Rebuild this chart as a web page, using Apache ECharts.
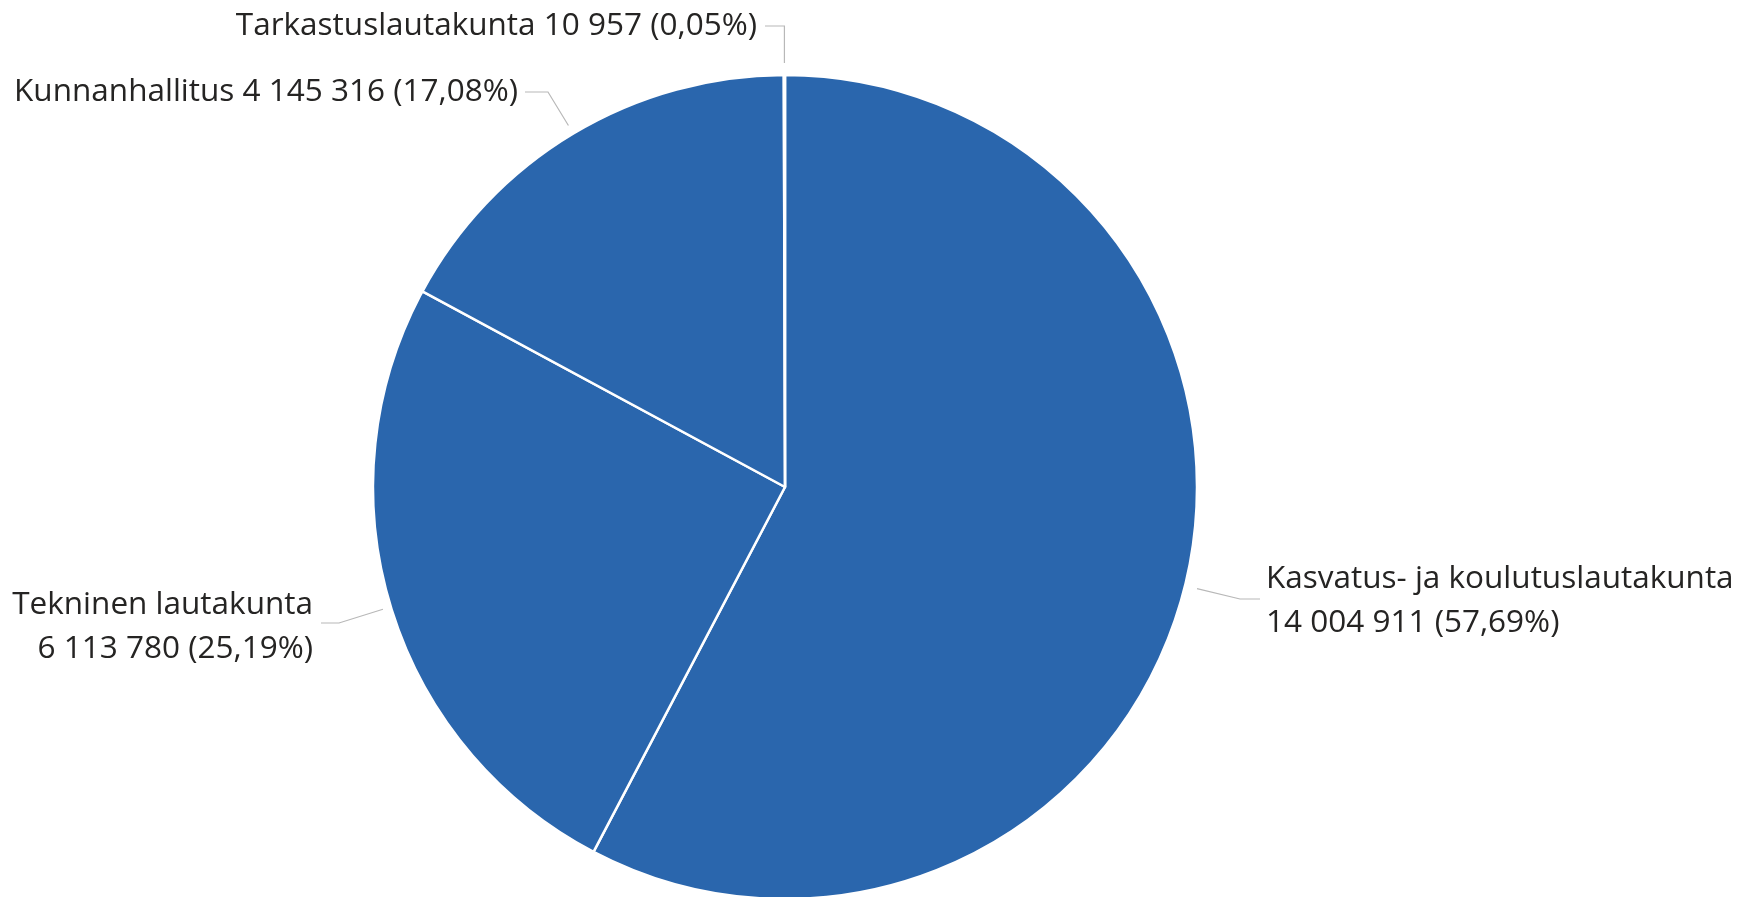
<!DOCTYPE html>
<html>
<head>
<meta charset="utf-8">
<script src="https://cdn.jsdelivr.net/npm/echarts@6/dist/echarts.min.js"></script>
<style>
  html, body { margin: 0; padding: 0; background: #fff; }
  #chart { width: 1737px; height: 897px; }
</style>
</head>
<body>
<div id="chart"></div>
<script>
const categories = [
    'Kasvatus- ja koulutuslautakunta',
    'Tekninen lautakunta',
    'Kunnanhallitus',
    'Tarkastuslautakunta'
];
const values = [14004911, 6113780, 4145316, 10957];

// label placement (right/left edge, vertical middle), two-line or not
const labelSpots = [
    {x: 1266, y: 601, align: 'left', wrap: true},
    {x: 313, y: 627, align: 'right', wrap: true},
    {x: 518, y: 92, align: 'right', wrap: false},
    {x: 757, y: 26, align: 'right', wrap: false}
];

const total = values.reduce((a, b) => a + b, 0);
const fmtNum = v => String(v).replace(/\B(?=(\d{3})+(?!\d))/g, ' ');

const chart = echarts.init(document.getElementById('chart'));

chart.setOption({
    animation: false,
    series: [{
        type: 'pie',
        center: [785, 487],
        radius: 412,
        startAngle: 90,
        clockwise: true,
        avoidLabelOverlap: false,
        itemStyle: {
            color: '#2A66AD',
            borderColor: '#fff',
            borderWidth: 2.5
        },
        label: {
            show: true,
            position: 'outside',
            color: '#252423',
            fontFamily: 'Open Sans',
            fontSize: 31.5,
            lineHeight: 44,
            formatter: p => {
                let pct = (p.value / total * 100).toFixed(2).replace('.', ',');
                let sep = labelSpots[p.dataIndex].wrap ? '\n' : ' ';
                return p.name + sep + fmtNum(p.value) + ' (' + pct + '%)';
            }
        },
        labelLine: {
            show: true,
            lineStyle: {color: '#b8b8b8', width: 1.2}
        },
        labelLayout: params => {
            let s = labelSpots[params.dataIndex];
            let p0 = params.labelLinePoints ? params.labelLinePoints[0] : [s.x, s.y];
            let pts;
            if (params.dataIndex === 0) {
                pts = [[p0[0] + 12, p0[1] + 3], [s.x - 26, s.y - 2], [s.x - 6, s.y - 2]];
            } else if (params.dataIndex === 1) {
                pts = [[p0[0] - 8, p0[1] + 2], [s.x + 26, s.y - 4], [s.x + 8, s.y - 4]];
            } else if (params.dataIndex === 2) {
                pts = [[p0[0] - 5, p0[1] - 8], [s.x + 30, s.y], [s.x + 7, s.y]];
            } else {
                pts = [[p0[0], p0[1] - 12], [p0[0], s.y], [s.x + 8, s.y]];
            }
            return {
                x: s.x,
                y: s.y,
                align: s.align,
                verticalAlign: 'middle',
                labelLinePoints: pts
            };
        },
        data: categories.map((name, i) => ({name, value: values[i]}))
    }]
});
</script>
</body>
</html>
